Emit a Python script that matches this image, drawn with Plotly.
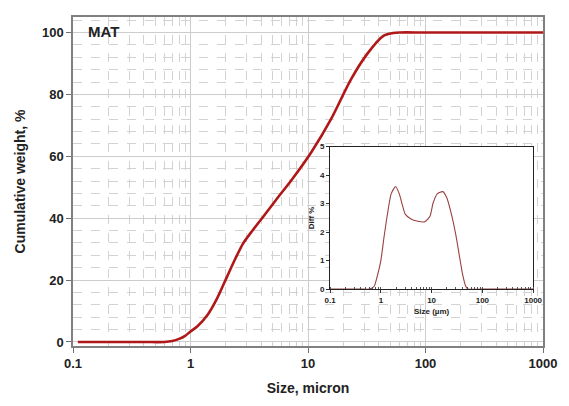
import plotly.graph_objects as go

# Main cumulative curve
size_cum = [0.11, 0.2, 0.4, 0.6, 0.7, 0.8, 0.9, 1.0, 1.14, 1.4, 1.68, 2.03, 2.4, 2.8, 3.4,
            4.38, 5.6, 7.3, 10.7, 15.7, 23.1, 31.8, 43.8, 53, 60, 100, 1000]
cum_weight = [0, 0, 0, 0, 0.3, 1.0, 2.0, 3.4, 5.0, 8.8, 14, 20.8, 26.8, 31.8, 36.2,
              41.6, 46.9, 52.5, 61.4, 72, 84.7, 93, 98.9, 99.8, 100, 100, 100]

# Inset differential curve
size_diff = [0.1, 0.4, 0.6, 0.74, 0.85, 1.0, 1.15, 1.34, 1.6, 1.95, 2.3, 2.7, 3.04, 4.0, 5.1,
             7.3, 9.3, 10.7, 13, 16.6, 20, 24, 30, 35, 41, 47, 52, 100, 1000]
diff_pct = [0, 0, 0, 0.1, 0.45, 1.0, 1.8, 2.6, 3.35, 3.6, 3.35, 2.9, 2.62, 2.45, 2.39,
            2.36, 2.56, 3.02, 3.35, 3.42, 3.2, 2.7, 1.9, 1.2, 0.5, 0.1, 0, 0, 0]

x_ticks = [0.1, 1, 10, 100, 1000]
x_ticklabels = ["0.1", "1", "10", "100", "1000"]

FONT = "Liberation Sans, Arial, sans-serif"

fig = go.Figure()
fig.add_trace(go.Scatter(x=size_cum, y=cum_weight, mode="lines",
                         line=dict(color="#b01818", width=2.6, shape="spline", smoothing=0.8),
                         xaxis="x", yaxis="y", showlegend=False))
fig.add_trace(go.Scatter(x=size_diff, y=diff_pct, mode="lines",
                         line=dict(color="#9a4040", width=1.1, shape="spline", smoothing=0.6),
                         xaxis="x2", yaxis="y2", showlegend=False))

fig.update_layout(
    width=569, height=406,
    margin=dict(l=73, r=18, t=17, b=54),
    paper_bgcolor="white", plot_bgcolor="white",
    font=dict(family=FONT, color="#222222"),
    xaxis=dict(
        type="log", range=[-1, 3], domain=[0, 1],
        tickvals=x_ticks, ticktext=x_ticklabels,
        tickfont=dict(size=13, family=FONT, weight="bold"),
        ticks="outside", ticklen=5, tickcolor="#707070",
        showline=True, linecolor="#808080", linewidth=1.5, mirror=True,
        showgrid=True, gridcolor="#cccccc", gridwidth=1,
        minor=dict(dtick="D1", showgrid=True, gridcolor="#d2d2d2", griddash="dash", ticks=""),
        title=dict(text="<b>Size, micron</b>", font=dict(size=14, family=FONT), standoff=13),
        zeroline=False,
    ),
    yaxis=dict(
        range=[-1.3, 105], domain=[0, 1],
        tickvals=[0, 20, 40, 60, 80, 100],
        tickfont=dict(size=13, family=FONT, weight="bold"),
        ticks="outside", ticklen=5, tickcolor="#707070",
        showline=True, linecolor="#808080", linewidth=1.5, mirror=True,
        showgrid=True, gridcolor="#cccccc", gridwidth=1,
        minor=dict(tick0=0, dtick=4, showgrid=True, gridcolor="#d2d2d2", griddash="dash", ticks=""),
        title=dict(text="<b>Cumulative weight, %</b>", font=dict(size=14, family=FONT), standoff=13),
        zeroline=False,
    ),
    xaxis2=dict(
        type="log", range=[-1, 3], domain=[0.547, 0.979], anchor="y2",
        tickvals=x_ticks, ticktext=x_ticklabels,
        tickfont=dict(size=8, family=FONT, weight="bold"),
        ticks="outside", ticklen=3, tickcolor="#333",
        minor=dict(dtick="D1", ticks="inside", ticklen=2, tickcolor="#555", showgrid=False),
        showline=True, linecolor="#222", linewidth=1, mirror=True,
        showgrid=False, zeroline=False,
        title=dict(text="<b>Size (µm)</b>", font=dict(size=8, family=FONT), standoff=4),
    ),
    yaxis2=dict(
        range=[0, 5], domain=[0.173, 0.606], anchor="x2",
        tickvals=[0, 1, 2, 3, 4, 5],
        tickfont=dict(size=8, family=FONT, weight="bold"),
        ticks="outside", ticklen=3, tickcolor="#333",
        showline=True, linecolor="#222", linewidth=1, mirror=True,
        showgrid=False, zeroline=False,
        title=dict(text="<b>Diff %</b>", font=dict(size=8, family=FONT), standoff=4),
    ),
    annotations=[dict(text="<b>MAT</b>", xref="paper", yref="paper", x=0.028, y=0.955,
                      xanchor="left", yanchor="middle", showarrow=False,
                      font=dict(size=15, family=FONT, color="#222"))],
)

fig.write_html("out.html")
